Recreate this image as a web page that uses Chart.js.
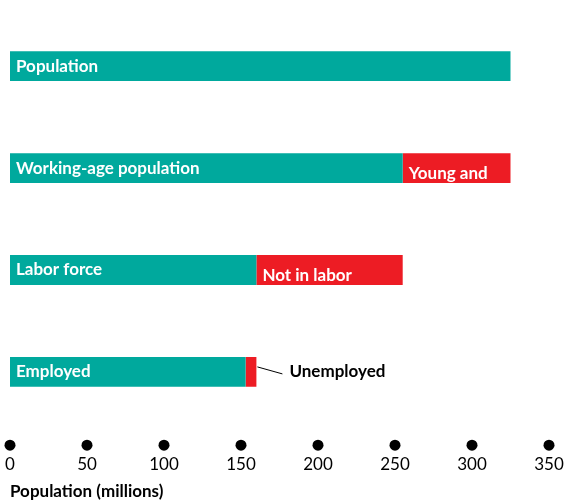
<!DOCTYPE html>
<html><head><meta charset="utf-8">
<script src="https://cdn.jsdelivr.net/npm/chart.js@4"></script>
<style>html,body{margin:0;padding:0;background:#fff}#w{width:570px;height:502px}</style>
</head><body><div id="w"><canvas id="c"></canvas></div>
<script>
const categories = ["Population","Working-age population","Labor force","Employed"];
const mainValues = [325, 255, 160, 153];
const restValues = [0, 70, 95, 7];
const restLabels = [[], ["Young and","institution-","alized"], ["Not in labor","force"], ["Unemployed"]];
const xTicks = [0,50,100,150,200,250,300,350];
const TEAL = "#00A99D", RED = "#ED1C24";
const FONT = "Lato";

const labelPlugin = {
  id: "labels",
  afterDatasetsDraw(chart) {
    const ctx = chart.ctx;
    const m0 = chart.getDatasetMeta(0), m1 = chart.getDatasetMeta(1);
    ctx.save();
    ctx.font = "bold 17px " + FONT;
    ctx.textBaseline = "middle";
    m0.data.forEach((b, i) => {
      ctx.fillStyle = "#fff";
      ctx.textAlign = "left";
      ctx.fillText(categories[i], chart.chartArea.left + 6, b.y);
      const r = m1.data[i];
      const lines = restLabels[i];
      if (!lines.length) return;
      if (i === 3) {
        ctx.strokeStyle = "#000"; ctx.lineWidth = 1;
        ctx.beginPath(); ctx.moveTo(r.x + 1, b.y - 5); ctx.lineTo(r.x + 26, b.y + 2); ctx.stroke();
        ctx.fillStyle = "#000";
        ctx.fillText(lines[0], r.x + 33, b.y);
      } else {
        const lh = 21.5;
        const top = b.y - b.height / 2 + 20;
        lines.forEach((t, k) => ctx.fillText(t, b.x + 6, top + k * lh));
      }
    });
    const xs = chart.scales.x;
    ctx.fillStyle = "#000";
    xTicks.forEach(v => {
      ctx.beginPath(); ctx.arc(xs.getPixelForValue(v), chart.chartArea.bottom - 2, 5.5, 0, Math.PI * 2); ctx.fill();
    });
    ctx.restore();
  }
};

new Chart(document.getElementById("c"), {
  type: "bar",
  data: {
    datasets: [
      { data: mainValues.map((v, i) => ({ x: v, y: i })), backgroundColor: TEAL, barPercentage: 0.723, categoryPercentage: 1 },
      { data: restValues.map((v, i) => ({ x: v, y: i })), backgroundColor: RED, barPercentage: 0.723, categoryPercentage: 1 }
    ]
  },
  options: {
    indexAxis: "y",
    responsive: true, maintainAspectRatio: false, animation: false,
    layout: { padding: { top: 0, left: 10, right: 21, bottom: 0 } },
    plugins: { legend: { display: false }, tooltip: { enabled: false } },
    scales: {
      y: { type: "linear", stacked: true, display: false, reverse: true, min: -0.405, max: 3.495 },
      x: {
        stacked: true, min: 0, max: 350,
        afterBuildTicks: s => { s.ticks = xTicks.map(v => ({ value: v })); },
        afterFit: s => { s.paddingLeft = 0; s.paddingRight = 0; },
        grid: { display: false, drawTicks: false },
        border: { display: false },
        ticks: { color: "#000", font: { family: FONT, size: 17 }, padding: 7, maxRotation: 0 },
        title: { display: true, text: "Population (millions)", align: "start", color: "#000",
                 font: { family: FONT, size: 17, weight: "bold" }, padding: { top: 0, bottom: 0 } }
      }
    }
  },
  plugins: [labelPlugin]
});
</script></body></html>
